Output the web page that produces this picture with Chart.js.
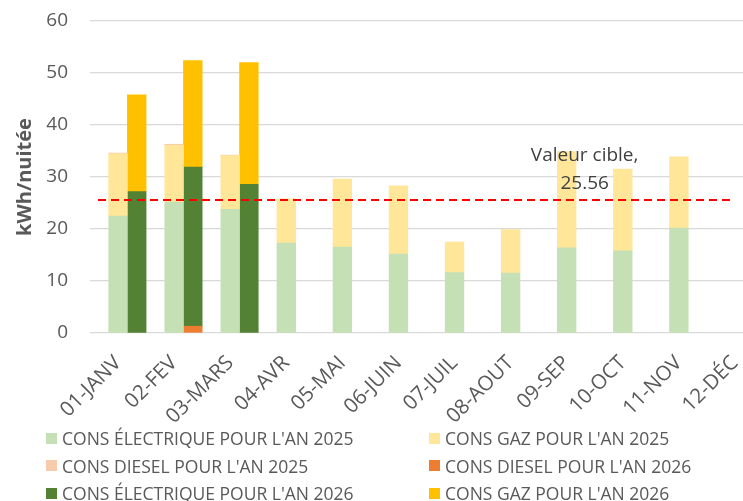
<!DOCTYPE html>
<html>
<head>
<meta charset="utf-8">
<script src="https://cdn.jsdelivr.net/npm/chart.js@4"></script>
<style>
  html, body { margin: 0; padding: 0; background: #fff; overflow: hidden; }
  #frame { position: relative; width: 743px; height: 501px; overflow: hidden; }
  #box { position: absolute; left: 0; top: 0; width: 766px; height: 428px; }
  #legend { position: absolute; left: 46px; top: 427px; width: 700px;
            display: grid; grid-template-columns: 383px 300px; row-gap: 5.5px;
            font-family: "Open Sans", sans-serif; font-size: 17.5px; color: #595959; }
  .item { display: flex; align-items: center; height: 22px; white-space: nowrap; }
  .sw { width: 11px; height: 11px; margin-right: 5px; flex: none; }
</style>
</head>
<body>
<div id="frame">
  <div id="box"><canvas id="myChart"></canvas></div>
  <div id="legend"></div>
</div>
<script>
// Mois
const months = ["01-JANV", "02-FEV", "03-MARS", "04-AVR", "05-MAI", "06-JUIN",
                "07-JUIL", "08-AOUT", "09-SEP", "10-OCT", "11-NOV", "12-DÉC"];

// Année 2025 (kWh/nuitée)
const elec2025 = [22.5, 25.2, 23.8, 17.3, 16.5, 15.2, 11.6, 11.5, 16.4, 15.8, 20.2, null];
const gaz2025 = [11.95, 10.9, 10.3, 8.5, 13.1, 13.1, 5.9, 8.4, 18.5, 15.7, 13.7, null];
const diesel2025 = [0.15, 0.2, 0.1, null, null, null, null, null, null, null, null, null];

// Année 2026
const diesel2026 = [null, 1.3, null, null, null, null, null, null, null, null, null, null];
const elec2026 = [27.2, 30.6, 28.6, null, null, null, null, null, null, null, null, null];
const gaz2026 = [18.6, 20.5, 23.4, null, null, null, null, null, null, null, null, null];

const valeurCible = 25.56;

const fontName = '"Open Sans", sans-serif';

// Ligne de la valeur cible + son étiquette
const ciblePlugin = {
    id: 'cible',
    afterDatasetsDraw(chart) {
        const ctx = chart.ctx;
        const x = chart.scales.x;
        const y = chart.scales.y.getPixelForValue(valeurCible);
        ctx.save();
        ctx.strokeStyle = '#FF0000';
        ctx.lineWidth = 2;
        ctx.setLineDash([8, 5]);
        ctx.beginPath();
        ctx.moveTo(chart.chartArea.left + 8, y);
        ctx.lineTo(x.getPixelForValue(11) - 3, y);
        ctx.stroke();
        ctx.setLineDash([]);
        ctx.fillStyle = '#404040';
        ctx.font = '19px ' + fontName;
        ctx.textAlign = 'center';
        ctx.textBaseline = 'middle';
        const lx = x.getPixelForValue(8.32);
        ctx.fillText('Valeur cible,', lx, y - 44);
        ctx.fillText(valeurCible.toFixed(2), lx, y - 16);
        ctx.restore();
    }
};

const ctx = document.getElementById('myChart').getContext('2d');
const chart = new Chart(ctx, {
    type: 'bar',
    data: {
        labels: months,
        datasets: [
            // place vide à gauche pour centrer 2025 sur le mois
            { label: '', data: months.map(() => null), stack: 'vide', backgroundColor: 'rgba(0,0,0,0)' },
            { label: "CONS ÉLECTRIQUE POUR L'AN 2025", data: elec2025, stack: '2025', backgroundColor: '#C5E0B4' },
            { label: "CONS GAZ POUR L'AN 2025", data: gaz2025, stack: '2025', backgroundColor: '#FFE699' },
            { label: "CONS DIESEL POUR L'AN 2025", data: diesel2025, stack: '2025', backgroundColor: '#F8CBAD' },
            { label: "CONS DIESEL POUR L'AN 2026", data: diesel2026, stack: '2026', backgroundColor: '#ED7D31' },
            { label: "CONS ÉLECTRIQUE POUR L'AN 2026", data: elec2026, stack: '2026', backgroundColor: '#548235' },
            { label: "CONS GAZ POUR L'AN 2026", data: gaz2026, stack: '2026', backgroundColor: '#FFC000' }
        ]
    },
    options: {
        responsive: true,
        maintainAspectRatio: false,
        animation: false,
        categoryPercentage: 1.0,
        barPercentage: 1.0,
        layout: { padding: { left: 0, top: 21, right: 3, bottom: 0 } },
        plugins: {
            legend: { display: false },
            tooltip: { enabled: false }
        },
        scales: {
            x: {
                stacked: true,
                grid: { display: false },
                border: { display: false },
                ticks: {
                    color: '#595959',
                    font: { family: fontName, size: 20.5 },
                    maxRotation: 45,
                    minRotation: 45,
                    padding: 10
                },
                afterFit(scale) {
                    scale.paddingLeft = 0;
                    scale.paddingRight = 0;
                    scale.height = 95;
                }
            },
            y: {
                stacked: true,
                min: 0,
                max: 60,
                border: { display: false },
                grid: { color: '#D9D9D9', lineWidth: 1.3, drawTicks: false },
                ticks: {
                    stepSize: 10,
                    color: '#595959',
                    font: { family: fontName, size: 19 },
                    padding: 22
                },
                title: {
                    display: true,
                    text: 'kWh/nuitée',
                    color: '#595959',
                    font: { family: fontName, size: 20, weight: 'bold' },
                    padding: { top: 13, bottom: 0 }
                },
                afterFit(scale) {
                    scale.paddingTop = 0;
                    scale.paddingBottom = 0;
                    scale.width = 90;
                }
            }
        }
    },
    plugins: [ciblePlugin]
});

// Légende sur deux colonnes, comme dans le classeur
const legend = document.getElementById('legend');
chart.data.datasets.forEach(ds => {
    if (!ds.label) return;
    const item = document.createElement('div');
    item.className = 'item';
    const sw = document.createElement('span');
    sw.className = 'sw';
    sw.style.background = ds.backgroundColor;
    const txt = document.createElement('span');
    txt.textContent = ds.label;
    item.appendChild(sw);
    item.appendChild(txt);
    legend.appendChild(item);
});
</script>
</body>
</html>
